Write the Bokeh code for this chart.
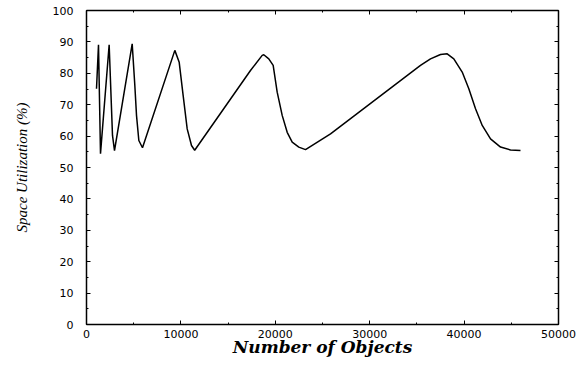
from bokeh.plotting import figure
from bokeh.models import Range1d, LinearAxis, SingleIntervalTicker
from bokeh.embed import file_html
from bokeh.resources import INLINE

# Data
objects = [1059, 1271, 1483, 2400, 2754, 2966, 4840, 5120, 5297, 5544, 5932,
           9357, 9820, 10240, 10667, 11123, 11460,
           17370, 18610, 18780, 19310, 19775, 20200, 20730, 21260, 21790, 22490, 23200,
           25850, 35380, 36440, 37500, 38210, 38910, 39800, 40500, 41210, 41920,
           42800, 43860, 44920, 45975]
utilization = [75.1, 89.1, 54.4, 89.1, 60.2, 55.4, 89.4, 76.1, 66.6, 58.6, 56.3,
               87.3, 83.5, 72.9, 62.3, 57.0, 55.5,
               80.9, 85.7, 85.9, 84.6, 82.5, 74.0, 66.6, 61.2, 58.1, 56.5, 55.7,
               60.7, 82.5, 84.6, 86.0, 86.2, 84.6, 80.4, 75.1, 68.7, 63.4,
               59.1, 56.5, 55.6, 55.4]

x_label = "Number of Objects"
y_label = "Space Utilization (%)"

p = figure(width=586, height=366, output_backend="svg", toolbar_location=None,
           x_range=Range1d(0, 50000), y_range=Range1d(0, 100),
           x_axis_location=None, y_axis_location=None,
           min_border_left=86, min_border_right=28, min_border_top=10, min_border_bottom=42)
p.grid.visible = False
p.outline_line_color = None
p.background_fill_color = "white"
p.border_fill_color = "white"

tick_font = "DejaVu Sans"

def make_axis(interval, show_labels):
    ax = LinearAxis(ticker=SingleIntervalTicker(interval=interval, num_minor_ticks=2))
    ax.axis_line_width = 1.5
    ax.axis_line_color = "black"
    ax.major_tick_in = 4
    ax.major_tick_out = 0
    ax.minor_tick_in = 2
    ax.minor_tick_out = 0
    ax.major_tick_line_color = "black"
    ax.minor_tick_line_color = "black"
    if show_labels:
        ax.major_label_text_font = tick_font
        ax.major_label_text_font_size = "11px"
        ax.major_label_text_color = "black"
    else:
        ax.major_label_text_font_size = "0px"
        ax.major_label_text_alpha = 0
    return ax

xb = make_axis(10000, True)
xb.axis_label = x_label
xb.axis_label_text_font = "DejaVu Serif"
xb.axis_label_text_font_style = "bold italic"
xb.axis_label_text_font_size = "17px"
xb.axis_label_text_color = "black"
xb.major_label_standoff = 5
xb.axis_label_standoff = -4
p.add_layout(xb, "below")

yl = make_axis(10, True)
yl.axis_label = y_label
yl.axis_label_text_font = "Liberation Serif"
yl.axis_label_text_font_style = "italic"
yl.axis_label_text_font_size = "15px"
yl.axis_label_text_color = "black"
yl.major_label_standoff = 13
yl.axis_label_standoff = 20
p.add_layout(yl, "left")

xt = make_axis(10000, False)
p.add_layout(xt, "above")
yr = make_axis(10, False)
p.add_layout(yr, "right")

p.line(objects, utilization, line_color="black", line_width=1.5)

open("out.html", "w").write(file_html(p, INLINE))
